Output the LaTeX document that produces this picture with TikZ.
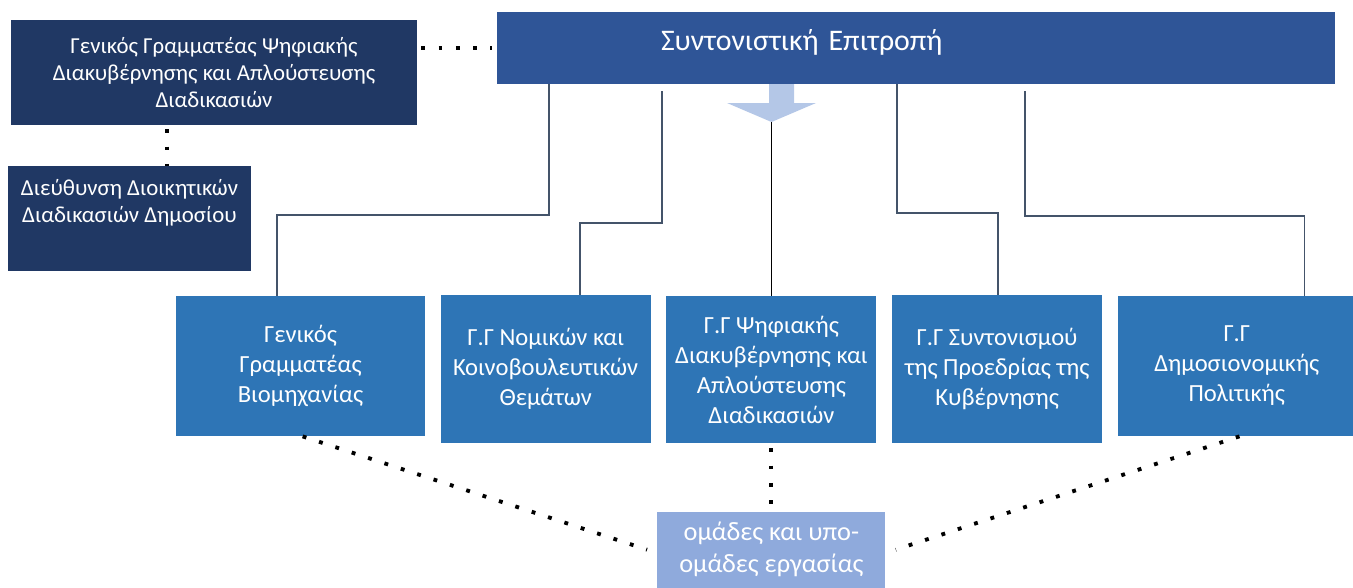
\documentclass[tikz,border=0pt]{standalone}
\usepackage{fontspec}
\setmainfont{Carlito}
\usepackage{tikz}
\usetikzlibrary{positioning, calc}
\definecolor{navyColor}{RGB}{32, 56, 100}
\definecolor{committeeColor}{RGB}{47, 85, 151}
\definecolor{ggColor}{RGB}{46, 117, 182}
\definecolor{teamColor}{RGB}{143, 170, 220}
\definecolor{arrowColor}{RGB}{180, 199, 231}
\definecolor{lineColor}{RGB}{68, 84, 106}

\begin{document}
\begin{tikzpicture}[
    node distance=0.3cm,
    navybox/.style={rectangle, fill=navyColor, text=white, align=center, inner sep=2pt, font=\fontsize{13}{15.4}\selectfont},
    ggbox/.style={rectangle, fill=ggColor, text=white, align=center, minimum width=4.2cm, inner sep=1pt, font=\fontsize{14}{17.1}\selectfont},
    conn/.style={draw=lineColor, line width=1.1pt},
    dots/.style={line width=2.2pt, dash pattern=on 2.2pt off 7.6pt, line cap=butt}
]
    \useasboundingbox (0,0) rectangle (27.06,-11.74);

    % Top
    \node[rectangle, fill=committeeColor, text=white, minimum width=16.76cm, minimum height=1.44cm, text width=16.5cm, align=left, text depth=0.34cm, font=\fontsize{17}{20}\selectfont] (synt) at (18.32,-0.96) {\hspace*{3.15cm}Συντονιστική Επιτροπή};
    \node[navybox, minimum width=8.12cm, minimum height=2.1cm] (gsdig) at (4.28,-1.45) {Γενικός Γραμματέας Ψηφιακής\\Διακυβέρνησης και Απλούστευσης\\Διαδικασιών};
    \node[navybox, minimum width=4.86cm, minimum height=2.1cm] (dieuth) at (2.59,-4.37) {Διεύθυνση Διοικητικών\\Διαδικασιών Δημοσίου\\\strut};

    % Big arrow
    \fill[arrowColor] (15.38,-1.68) -- (15.38,-2.06) -- (14.54,-2.06) -- (15.43,-2.44) -- (16.32,-2.06) -- (15.88,-2.06) -- (15.88,-1.68) -- cycle;
    \coordinate (arrowtip) at (15.43,-2.44);

    % General secretariats
    \node[ggbox, minimum width=4.98cm, minimum height=2.8cm] (gg1) at (6.01,-7.32) {Γενικός\\Γραμματέας\\Βιομηχανίας};
    \node[ggbox, minimum height=2.96cm, right=0.3cm of gg1.north east, anchor=north west, yshift=0.02cm] (gg2) {Γ.Γ Νομικών και\\Κοινοβουλευτικών\\Θεμάτων};
    \node[ggbox, minimum height=2.94cm, right=0.3cm of gg2.north east, anchor=north west, yshift=-0.02cm] (gg3) {Γ.Γ Ψηφιακής\\Διακυβέρνησης και\\Απλούστευσης\\Διαδικασιών};
    \node[ggbox, minimum height=2.96cm, right=0.3cm of gg3.north east, anchor=north west, yshift=0.02cm] (gg4) {Γ.Γ Συντονισμού\\της Προεδρίας της\\Κυβέρνησης};
    \node[ggbox, minimum width=4.76cm, minimum height=2.8cm, right=0.3cm of gg4.north east, anchor=north west, yshift=-0.02cm] (gg5) {Γ.Γ\\Δημοσιονομικής\\Πολιτικής};

    % Working groups
    \node[rectangle, fill=teamColor, text=white, align=center, minimum width=4.56cm, minimum height=1.52cm, inner sep=2pt, font=\fontsize{15}{18.2}\selectfont, below=1.36cm of gg3] (teams) {ομάδες και υπο-\\ομάδες εργασίας};

    % Connectors
    \draw[conn] ([xshift=1.04cm]synt.south west) |- ([xshift=2.02cm, yshift=1.62cm]gg1.north west) -- ([xshift=2.02cm]gg1.north west);
    \draw[conn] ([xshift=3.30cm, yshift=-0.14cm]synt.south west) |- ([xshift=2.8cm, yshift=1.44cm]gg2.north west) -- ([xshift=2.8cm]gg2.north west);
    \draw[line width=1.1pt, black] (arrowtip) -- (arrowtip |- gg3.north);
    \draw[conn] ([xshift=8.0cm]synt.south west) |- ([xshift=2.12cm, yshift=1.64cm]gg4.north west) -- ([xshift=2.12cm]gg4.north west);
    \draw[conn] ([xshift=10.56cm, yshift=-0.14cm]synt.south west) |- ([xshift=3.74cm, yshift=1.6cm]gg5.north west) -- ([xshift=3.74cm]gg5.north west);

    % Dotted links
    \coordinate (gsdot) at ($(gsdig.south west)!0.384!(gsdig.south east)$);
    \draw[dots, shorten <=0.08cm, shorten >=0.1cm] (gsdig.east |- synt) -- (synt.west);
    \draw[dots, shorten <=0.08cm] (gsdot) -- (gsdot |- dieuth.north);
    \draw[dots] ([xshift=2.54cm]gg1.south west) -- ([xshift=-0.2cm]teams.west);
    \draw[dots, shorten <=0.1cm] (gg3.south) -- (teams.north);
    \draw[dots] ([xshift=2.44cm]gg5.south west) -- ([xshift=0.2cm]teams.east);
\end{tikzpicture}
\end{document}
